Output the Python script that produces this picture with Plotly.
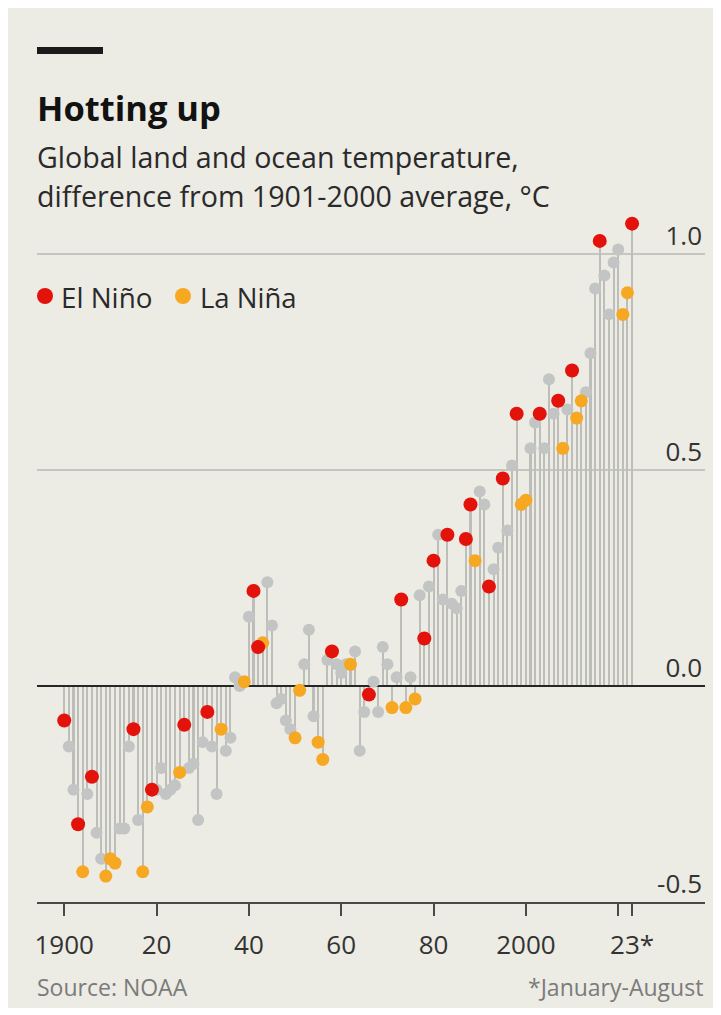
import plotly.graph_objects as go

# ---------------- data ----------------
years = list(range(1900, 2024))
anomaly = [
    # 1900-1909
    -0.08, -0.14, -0.24, -0.32, -0.43, -0.25, -0.21, -0.34, -0.40, -0.44,
    # 1910-1919
    -0.40, -0.41, -0.33, -0.33, -0.14, -0.10, -0.31, -0.43, -0.28, -0.24,
    # 1920-1929
    -0.24, -0.19, -0.25, -0.24, -0.23, -0.20, -0.09, -0.19, -0.18, -0.31,
    # 1930-1939
    -0.13, -0.06, -0.14, -0.25, -0.10, -0.15, -0.12, 0.02, 0.00, 0.01,
    # 1940-1949
    0.16, 0.22, 0.09, 0.10, 0.24, 0.14, -0.04, -0.03, -0.08, -0.10,
    # 1950-1959
    -0.12, -0.01, 0.05, 0.13, -0.07, -0.13, -0.17, 0.06, 0.08, 0.05,
    # 1960-1969
    0.03, 0.05, 0.05, 0.08, -0.15, -0.06, -0.02, 0.01, -0.06, 0.09,
    # 1970-1979
    0.05, -0.05, 0.02, 0.20, -0.05, 0.02, -0.03, 0.21, 0.11, 0.23,
    # 1980-1989
    0.29, 0.35, 0.20, 0.35, 0.19, 0.18, 0.22, 0.34, 0.42, 0.29,
    # 1990-1999
    0.45, 0.42, 0.23, 0.27, 0.32, 0.48, 0.36, 0.51, 0.63, 0.42,
    # 2000-2009
    0.43, 0.55, 0.61, 0.63, 0.55, 0.71, 0.63, 0.66, 0.55, 0.64,
    # 2010-2019
    0.73, 0.62, 0.66, 0.68, 0.77, 0.92, 1.03, 0.95, 0.86, 0.98,
    # 2020-2023
    1.01, 0.86, 0.91, 1.07,
]
el_nino_years = [1900, 1903, 1906, 1915, 1919, 1926, 1931, 1941, 1942, 1958,
                 1966, 1973, 1978, 1980, 1983, 1987, 1988, 1992, 1995, 1998,
                 2003, 2007, 2010, 2016, 2023]
la_nina_years = [1904, 1909, 1910, 1911, 1917, 1918, 1925, 1934, 1939, 1943,
                 1950, 1951, 1955, 1956, 1962, 1971, 1974, 1976, 1989, 1999,
                 2000, 2008, 2011, 2012, 2021, 2022]

x_tick_vals = [1900, 1920, 1940, 1960, 1980, 2000, 2020, 2023]
x_tick_text = ["1900", "20", "40", "60", "80", "2000", "", "23*"]
y_tick_vals = [-0.5, 0.0, 0.5, 1.0]
y_tick_text = ["-0.5", "0.0", "0.5", "1.0"]

title = "Hotting up"
subtitle_1 = "Global land and ocean temperature,"
subtitle_2 = "difference from 1901-2000 average, °C"
source = "Source: NOAA"
footnote = "*January-August"

# ---------------- styling ----------------
OFF = 8                      # page body margin
W, H = 713, 1000             # figure size
L, R, T, B = 37 - OFF, 705 - OFF, 215 - OFF, 902 - OFF   # plot area (figure px)
X_RANGE = [1894.1, 2038.8]
Y_RANGE = [-0.5, 1.09]
BG = "#ecebe4"
STEM = "#bdbdba"
GREY_DOT = "#c3c5c4"
RED = "#e3120b"
ORANGE = "#f7a823"
FONT = "Open Sans"


def xp(px):  # page px -> paper x
    return (px - OFF - L) / (R - L)


def yp(py):  # page px -> paper y
    return (B - (py - OFF)) / (B - T)


lookup = dict(zip(years, anomaly))
neutral = [y for y in years if y not in el_nino_years and y not in la_nina_years]

fig = go.Figure()
fig.add_trace(go.Bar(x=years, y=anomaly, width=0.45, marker_color=STEM,
                     marker_line_width=0, showlegend=False, hoverinfo="skip"))
fig.add_trace(go.Scatter(x=X_RANGE, y=[0, 0], mode="lines",
                         line=dict(color="#262626", width=2),
                         showlegend=False, hoverinfo="skip"))
fig.add_trace(go.Scatter(x=neutral, y=[lookup[y] for y in neutral], mode="markers",
                         marker=dict(size=12, color=GREY_DOT), showlegend=False))
fig.add_trace(go.Scatter(x=la_nina_years, y=[lookup[y] for y in la_nina_years],
                         mode="markers", name="La Niña",
                         marker=dict(size=13, color=ORANGE), showlegend=False))
fig.add_trace(go.Scatter(x=el_nino_years, y=[lookup[y] for y in el_nino_years],
                         mode="markers", name="El Niño",
                         marker=dict(size=14, color=RED), showlegend=False))

shapes = [
    # black bar above title
    dict(type="rect", xref="paper", yref="paper",
         x0=xp(37), x1=xp(103), y0=yp(54), y1=yp(47),
         fillcolor="#1a1a1a", line_width=0),
    # legend dots
    dict(type="circle", xref="paper", yref="paper",
         x0=xp(45 - 8), x1=xp(45 + 8), y0=yp(296 + 8), y1=yp(296 - 8),
         fillcolor=RED, line_width=0),
    dict(type="circle", xref="paper", yref="paper",
         x0=xp(183 - 8), x1=xp(183 + 8), y0=yp(296 + 8), y1=yp(296 - 8),
         fillcolor=ORANGE, line_width=0),
]

annotations = [
    dict(text=f"<b>{title}</b>", x=xp(35), y=yp(108), font=dict(size=34.5, color="#121212")),
    dict(text=subtitle_1, x=xp(35), y=yp(156), font=dict(size=28.6, color="#2a2a2a")),
    dict(text=subtitle_2, x=xp(35), y=yp(196), font=dict(size=28.6, color="#2a2a2a")),
    dict(text="El Niño", x=xp(59), y=yp(297), font=dict(size=27.8, color="#2a2a2a")),
    dict(text="La Niña", x=xp(198), y=yp(297), font=dict(size=27.5, color="#2a2a2a")),
    dict(text=source, x=xp(35), y=yp(987), font=dict(size=23, color="#7b7b7b")),
    dict(text=footnote, x=xp(705), y=yp(987), xanchor="right",
         font=dict(size=23, color="#7b7b7b")),
]
for a in annotations:
    a.setdefault("xanchor", "left")
    a.update(xref="paper", yref="paper", yanchor="middle", showarrow=False)
    a["font"]["family"] = FONT

fig.update_layout(
    width=W, height=H,
    margin=dict(l=L, r=W - R, t=T, b=H - B, pad=0),
    paper_bgcolor=BG,
    plot_bgcolor="rgba(0,0,0,0)",
    font=dict(family=FONT, color="#333333"),
    shapes=shapes,
    annotations=annotations,
    bargap=0,
    showlegend=False,
    xaxis=dict(range=X_RANGE, tickvals=x_tick_vals, ticktext=x_tick_text,
               showgrid=False, zeroline=False, showline=True, linecolor="#4a4a4a",
               linewidth=2, ticks="outside", ticklen=12, tickwidth=2,
               tickcolor="#4a4a4a", tickfont=dict(size=26, color="#333333"),
               ticklabelstandoff=7, fixedrange=True),
    yaxis=dict(range=Y_RANGE, tickvals=y_tick_vals, ticktext=y_tick_text,
               side="right", ticklabelposition="inside top", showgrid=True,
               gridcolor="#c6c6c0", gridwidth=1.5, zeroline=False, showline=False,
               ticks="", tickfont=dict(size=26, color="#333333"), fixedrange=True),
)

fig.write_html("out.html")
